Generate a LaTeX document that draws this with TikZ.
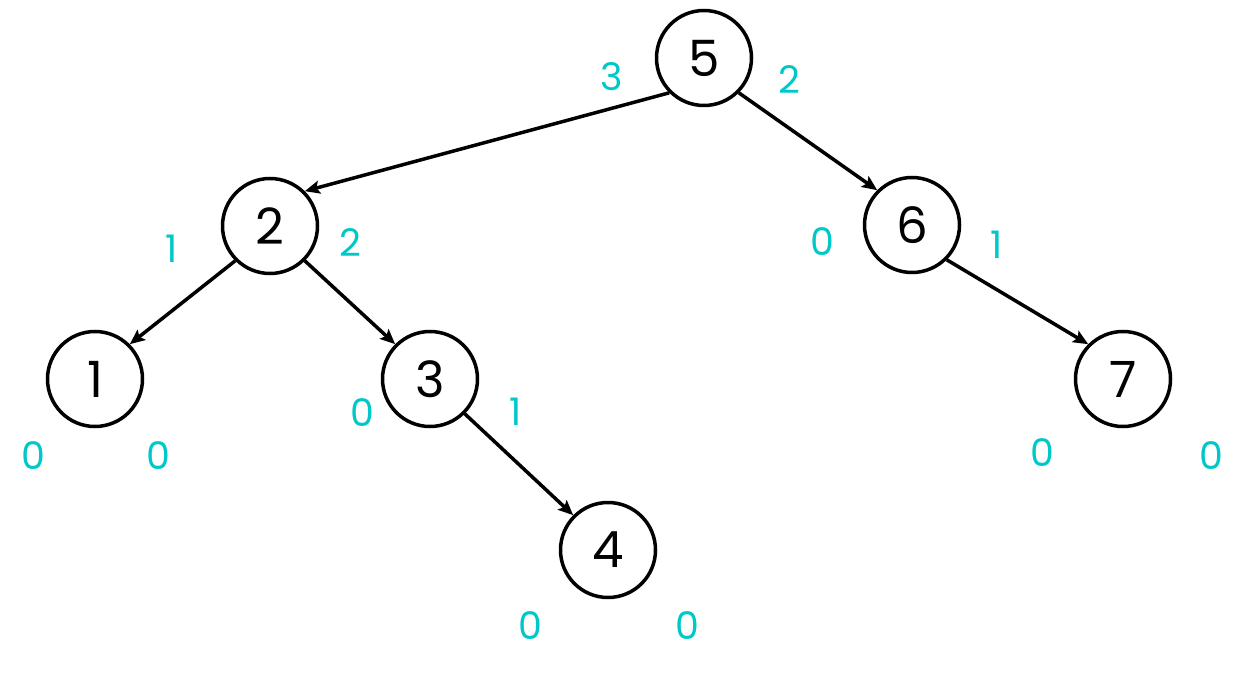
\documentclass[tikz,border=0pt]{standalone}
\usepackage{fontspec}
\setmainfont{Poppins}
\usetikzlibrary{arrows.meta}
\definecolor{lbl}{RGB}{0,200,200}
\tikzset{
  tnode/.style={circle, draw=black, line width=3.5pt, minimum size=95pt, inner sep=0pt, font=\fontsize{50}{50}\selectfont},
  edge/.style={line width=3.5pt, -{Stealth[length=15pt,width=13pt,inset=3pt]}},
  num/.style={text=lbl, font=\fontsize{38}{38}\selectfont, inner sep=0pt}
}
\begin{document}
\begin{tikzpicture}[x=1pt,y=-1pt]
\useasboundingbox (0,0) rectangle (1238,684);
\node[tnode] (n5) at (704,58) {5};
\node[tnode] (n2) at (270,226) {2};
\node[tnode] (n6) at (912,225) {6};
\node[tnode] (n1) at (95,379) {1};
\node[tnode] (n3) at (430,379) {3};
\node[tnode] (n7) at (1123,379) {7};
\node[tnode] (n4) at (608,550) {4};
\draw[edge] (n5.south west) -- (n2.north east);
\draw[edge] (n5.south east) -- (n6.north west);
\draw[edge] (n2.south west) -- (n1.north east);
\draw[edge] (n2.south east) -- (n3.north west);
\draw[edge] (n3.south east) -- (n4.north west);
\draw[edge] (n6.south east) -- (n7.north west);
\node[num] (l5l) at (612,77) {3};
\node[num] (l5r) at (789,80) {2};
\node[num] (l2l) at (172,249) {1};
\node[num] (l2r) at (350,243) {2};
\node[num] (l6l) at (822,242) {0};
\node[num] (l6r) at (997,245) {1};
\node[num] (l1l) at (33,456) {0};
\node[num] (l1r) at (158,456) {0};
\node[num] (l3l) at (362,413) {0};
\node[num] (l3r) at (516,412) {1};
\node[num] (l7l) at (1042,453) {0};
\node[num] (l7r) at (1211,456) {0};
\node[num] (l4l) at (530,626) {0};
\node[num] (l4r) at (687,626) {0};
\end{tikzpicture}
\end{document}
